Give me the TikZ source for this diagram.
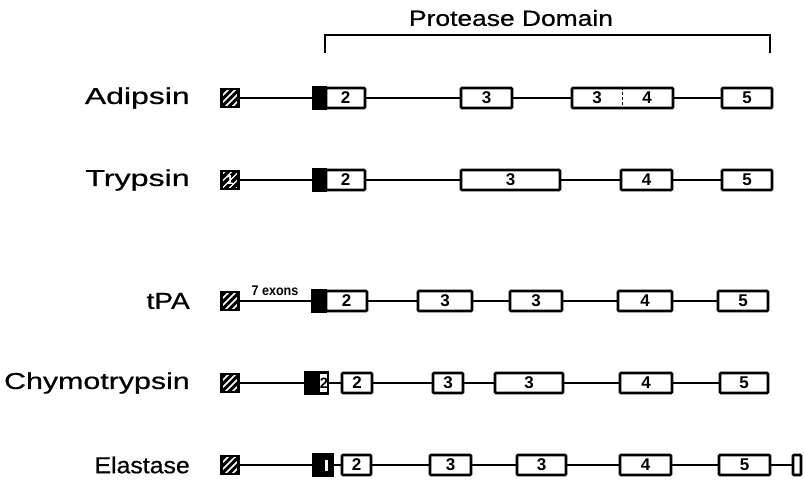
\documentclass[tikz,border=0pt]{standalone}
\usepackage{fontspec}
\setmainfont{Liberation Sans}
\begin{document}
\begin{tikzpicture}[x=1pt,y=-1pt,
  exon/.style={draw, line width=2.6pt, rounded corners=1pt, minimum height=20pt, inner sep=0pt, fill=white, font=\bfseries\fontsize{17}{17}\selectfont},
  blk/.style={draw, fill=black, line width=2.6pt, minimum height=21pt, inner sep=0pt},
  hatchbox/.style={draw, line width=2.2pt, minimum width=17pt, minimum height=18pt, inner sep=0pt,
    path picture={\foreach \k in {-3,...,2}{\draw[line width=3pt] ([xshift=\k*7pt]path picture bounding box.south west) -- ++(22pt,22pt);}}},
  intron/.style={line width=2pt},
  genelabel/.style={anchor=east, font=\fontsize{23}{23}\selectfont\addfontfeature{FakeBold=0.6}, transform shape, inner sep=0pt},
  num/.style={font=\bfseries\fontsize{17}{17}\selectfont, inner sep=0pt}
]
\useasboundingbox (0,0) rectangle (804,480);

% title and bracket
\node[font=\fontsize{22}{22}\selectfont\addfontfeature{FakeBold=0.6}, xscale=1.2, transform shape, inner sep=0pt] (title) at (511,18) {Protease Domain};
\coordinate (bl) at (325,53);
\coordinate (br) at (770,53);
\draw[line width=2pt] (bl) -- ++(0,-18) -| (br);

% Adipsin
\node[genelabel, xscale=1.39] (lA) at (190,98) {Adipsin};
\node[hatchbox] (a0) at (230,98) {};
\node[blk, minimum width=13pt] (a1) at (319.5,98) {};
\node[exon, minimum width=39pt] (a2) at (345.5,98) {2};
\node[exon, minimum width=51pt] (a3) at (486.5,98) {3};
\node[exon, minimum width=101pt] (a34) at (622.5,98) {};
\draw[line width=1.8pt, dash pattern=on 3pt off 2pt] (a34.north) -- (a34.south);
\node[num] (a34t) at (597,98) {3};
\node[num] (a34u) at (647,98) {4};
\node[exon, minimum width=50pt] (a5) at (747,98) {5};
\draw[intron] (a0) -- (a1) (a2) -- (a3) (a3) -- (a34) (a34) -- (a5);

% Trypsin
\node[genelabel, xscale=1.4] (lT) at (190,180) {Trypsin};
\node[hatchbox, fill=black, path picture={\foreach \k in {-3,...,2}{\draw[white, line width=1.4pt] ([xshift=\k*7pt]path picture bounding box.south west) -- ++(22pt,22pt);}}, text=white, font=\bfseries\fontsize{13}{13}\selectfont] (t0) at (230,180) {1};
\node[blk, minimum width=13pt] (t1) at (319.5,180) {};
\node[exon, minimum width=39pt] (t2) at (345.5,180) {2};
\node[exon, minimum width=99pt] (t3) at (510.5,180) {3};
\node[exon, minimum width=51pt] (t4) at (646.5,180) {4};
\node[exon, minimum width=50pt] (t5) at (747,180) {5};
\draw[intron] (t0) -- (t1) (t2) -- (t3) (t3) -- (t4) (t4) -- (t5);

% tPA
\node[genelabel, xscale=1.22] (lP) at (190,301) {tPA};
\node[hatchbox] (p0) at (230,301) {};
\node[blk, minimum width=14pt] (p1) at (319,301) {};
\node[exon, minimum width=41pt] (p2) at (346.5,301) {2};
\node[exon, minimum width=54pt] (p3) at (445,301) {3};
\node[exon, minimum width=52pt] (p3b) at (536,301) {3};
\node[exon, minimum width=54pt] (p4) at (645,301) {4};
\node[exon, minimum width=50pt] (p5) at (743,301) {5};
\draw[intron] (p0) -- (p1) (p2) -- (p3) (p3) -- (p3b) (p3b) -- (p4) (p4) -- (p5);
\node[font=\bfseries\fontsize{14}{14}\selectfont, xscale=0.9, transform shape, inner sep=0pt] (p7) at (275,291) {7 exons};

% Chymotrypsin
\node[genelabel, xscale=1.32] (lC) at (190,383) {Chymotrypsin};
\node[hatchbox] (c0) at (230,383) {};
\node[blk, fill=white, minimum width=23pt, path picture={\fill[black] (path picture bounding box.south west) rectangle ([xshift=-8pt]path picture bounding box.north east);}] (c1) at (316.5,383) {};
\node[num, font=\bfseries\fontsize{15}{15}\selectfont] (c1t) at (324,383) {2};
\node[exon, minimum width=30pt] (c2) at (357,383) {2};
\node[exon, minimum width=30pt] (c3) at (448,383) {3};
\node[exon, minimum width=68pt] (c3b) at (529,383) {3};
\node[exon, minimum width=52pt] (c4) at (646,383) {4};
\node[exon, minimum width=48pt] (c5) at (744,383) {5};
\draw[intron] (c0) -- (c1) (c1) -- (c2) (c2) -- (c3) (c3) -- (c3b) (c3b) -- (c4) (c4) -- (c5);

% Elastase
\node[genelabel, xscale=1.08] (lE) at (190,465) {Elastase};
\node[hatchbox] (e0) at (230,465) {};
\node[blk, minimum width=20pt, path picture={\fill[white] ([xshift=12pt,yshift=5pt]path picture bounding box.south west) rectangle ([xshift=-5pt,yshift=-5pt]path picture bounding box.north east);}] (e1) at (323,465) {};
\node[exon, minimum width=29pt] (e2) at (356.5,465) {2};
\node[exon, minimum width=41pt] (e3) at (450.5,465) {3};
\node[exon, minimum width=49pt] (e3b) at (541.5,465) {3};
\node[exon, minimum width=51pt] (e4) at (645.5,465) {4};
\node[exon, minimum width=51pt] (e5) at (744.5,465) {5};
\node[exon, minimum width=8pt] (e6) at (797,465) {};
\draw[intron] (e0) -- (e1) (e1) -- (e2) (e2) -- (e3) (e3) -- (e3b) (e3b) -- (e4) (e4) -- (e5) (e5) -- (e6);
\end{tikzpicture}
\end{document}
